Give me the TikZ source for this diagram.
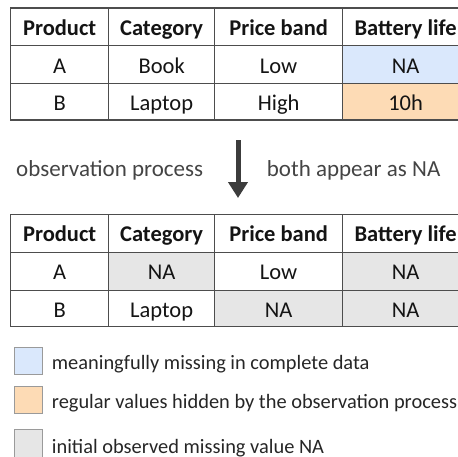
\documentclass[tikz,border=0pt]{standalone}
\usepackage{fontspec}
\setmainfont{Carlito}
\usetikzlibrary{arrows.meta}
\definecolor{gridline}{HTML}{4D4D4D}
\definecolor{cellblue}{HTML}{DAE8FC}
\definecolor{cellorange}{HTML}{FDDBB5}
\definecolor{cellgray}{HTML}{E6E6E6}
\definecolor{legendedge}{HTML}{9A9A9A}
\definecolor{notetext}{HTML}{444444}
\definecolor{arrowgray}{HTML}{3C3C3C}
\tikzset{
  cell/.style={draw=gridline, line width=1.3pt, inner sep=0pt, anchor=north west,
    font=\fontsize{22.5}{26}\selectfont, text=black!92,
    text height=17pt, text depth=0pt},
  headcell/.style={cell, font=\fontsize{22.5}{26}\selectfont\bfseries},
  note/.style={font=\fontsize{23}{26}\selectfont, text=notetext, inner sep=0pt},
  swatch/.style={draw=legendedge, line width=1pt, inner sep=0pt, anchor=north west,
    minimum width=28pt, minimum height=27pt},
  legendtext/.style={font=\fontsize{20.4}{24}\selectfont, text=black!85, anchor=base west, inner sep=0pt},
}
\begin{document}
\begin{tikzpicture}[x=1pt, y=1pt]
\useasboundingbox (0,0) rectangle (458,-456);
\clip (0,0) rectangle (458,-456);

% column widths shared by both tables
\def\colA{98}\def\colB{106}\def\colC{128}\def\colD{126}

% ---- complete data ----
\node[headcell, minimum width=\colA pt, minimum height=37.7pt] (p0) at (10,-7.3) {Product};
\node[headcell, minimum width=\colB pt, minimum height=37.7pt] (c0) at (108,-7.3) {Category};
\node[headcell, minimum width=\colC pt, minimum height=37.7pt] (b0) at (214,-7.3) {Price band};
\node[headcell, minimum width=\colD pt, minimum height=37.7pt] (l0) at (342,-7.3) {Battery life};

\node[cell, minimum width=\colA pt, minimum height=37.7pt] (p1) at (10,-45) {A};
\node[cell, minimum width=\colB pt, minimum height=37.7pt] (c1) at (108,-45) {Book};
\node[cell, minimum width=\colC pt, minimum height=37.7pt] (b1) at (214,-45) {Low};
\node[cell, fill=cellblue, minimum width=\colD pt, minimum height=37.7pt] (l1) at (342,-45) {NA};

\node[cell, minimum width=\colA pt, minimum height=36.6pt] (p2) at (10,-82.7) {B};
\node[cell, minimum width=\colB pt, minimum height=36.6pt] (c2) at (108,-82.7) {Laptop};
\node[cell, minimum width=\colC pt, minimum height=36.6pt] (b2) at (214,-82.7) {High};
\node[cell, fill=cellorange, minimum width=\colD pt, minimum height=36.6pt] (l2) at (342,-82.7) {10h};

% ---- observation step ----
\coordinate (arrTop) at (238,-140);
\coordinate (arrBot) at (238,-198);
\draw[arrowgray, line width=5pt, -{Triangle[width=19pt, length=16pt]}] (arrTop) -- (arrBot);
\node[note, anchor=base west] (obs) at (16,-176.7) {observation process};
\node[note, anchor=base west] (both) at (266.7,-176.7) {both appear as NA};

% ---- observed data ----
\node[headcell, minimum width=\colA pt, minimum height=37.5pt] (q0) at (10,-214) {Product};
\node[headcell, minimum width=\colB pt, minimum height=37.5pt] (d0) at (108,-214) {Category};
\node[headcell, minimum width=\colC pt, minimum height=37.5pt] (e0) at (214,-214) {Price band};
\node[headcell, minimum width=\colD pt, minimum height=37.5pt] (m0) at (342,-214) {Battery life};

\node[cell, minimum width=\colA pt, minimum height=38.5pt] (q1) at (10,-251.5) {A};
\node[cell, fill=cellgray, minimum width=\colB pt, minimum height=38.5pt] (d1) at (108,-251.5) {NA};
\node[cell, minimum width=\colC pt, minimum height=38.5pt] (e1) at (214,-251.5) {Low};
\node[cell, fill=cellgray, minimum width=\colD pt, minimum height=38.5pt] (m1) at (342,-251.5) {NA};

\node[cell, minimum width=\colA pt, minimum height=35.7pt] (q2) at (10,-290) {B};
\node[cell, minimum width=\colB pt, minimum height=35.7pt] (d2) at (108,-290) {Laptop};
\node[cell, fill=cellgray, minimum width=\colC pt, minimum height=35.7pt] (e2) at (214,-290) {NA};
\node[cell, fill=cellgray, minimum width=\colD pt, minimum height=35.7pt] (m2) at (342,-290) {NA};

% ---- legend ----
\node[swatch, fill=cellblue] (k1) at (13.5,-347.3) {};
\node[legendtext] (t1) at (51.7,-369.3) {meaningfully missing in complete data};
\node[swatch, fill=cellorange, minimum height=26.7pt] (k2) at (13.5,-386) {};
\node[legendtext] (t2) at (51.7,-408.3) {regular values hidden by the observation process};
\node[swatch, fill=cellgray, minimum height=30pt] (k3) at (13.5,-429.3) {};
\node[legendtext] (t3) at (51.7,-453.3) {initial observed missing value NA};
\end{tikzpicture}
\end{document}
